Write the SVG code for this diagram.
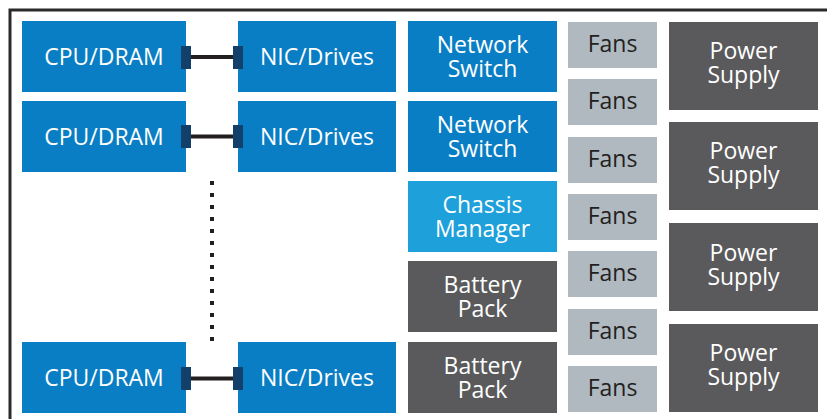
<svg xmlns="http://www.w3.org/2000/svg" width="827" height="419" viewBox="0 0 827 419">
<style>
.blue{fill:#0a7ec4}
.light{fill:#1ea0db}
.dark{fill:#5a5a5c}
.fan{fill:#b0b8c0}
text{font-family:"Open Sans","Noto Sans","Liberation Sans",sans-serif;font-size:23px;text-anchor:middle}
.w{fill:#ffffff}
.k{fill:#231f20}
.tab{fill:#133f6b}
.wire{stroke:#231f20;stroke-width:4}
</style>
<rect x="0" y="0" width="827" height="419" fill="#ffffff"/>
<rect x="10" y="10" width="840" height="430" fill="none" stroke="#2b2b2b" stroke-width="3"/>

<g id="cpu1"><rect class="blue" x="22" y="21" width="164" height="71"/><text class="w" x="104" y="65">CPU/DRAM</text></g>
<g id="nic1"><rect class="blue" x="238" y="21" width="158" height="71"/><text class="w" x="317" y="65">NIC/Drives</text></g>
<g id="cpu2"><rect class="blue" x="22" y="101" width="164" height="71"/><text class="w" x="104" y="145">CPU/DRAM</text></g>
<g id="nic2"><rect class="blue" x="238" y="101" width="158" height="71"/><text class="w" x="317" y="145">NIC/Drives</text></g>
<g id="cpu3"><rect class="blue" x="22" y="342" width="164" height="71"/><text class="w" x="104" y="386">CPU/DRAM</text></g>
<g id="nic3"><rect class="blue" x="238" y="342" width="158" height="71"/><text class="w" x="317" y="386">NIC/Drives</text></g>

<g id="connectors">
<line class="wire" x1="190" y1="57" x2="234" y2="57"/>
<rect class="tab" x="181" y="46" width="10" height="23"/>
<rect class="tab" x="233" y="46" width="10" height="23"/>
<line class="wire" x1="190" y1="136.5" x2="234" y2="136.5"/>
<rect class="tab" x="181" y="125" width="10" height="23"/>
<rect class="tab" x="233" y="125" width="10" height="23"/>
<line class="wire" x1="190" y1="378.5" x2="234" y2="378.5"/>
<rect class="tab" x="181" y="367" width="10" height="23"/>
<rect class="tab" x="233" y="367" width="10" height="23"/>
<line x1="212" y1="181" x2="212" y2="345" stroke="#231f20" stroke-width="4" stroke-dasharray="4 8"/>
</g>

<g id="switch1"><rect class="blue" x="408" y="21" width="149" height="71"/><text class="w" x="482.5" y="52.5">Network<tspan x="482.5" dy="24">Switch</tspan></text></g>
<g id="switch2"><rect class="blue" x="408" y="101" width="149" height="71"/><text class="w" x="482.5" y="132.5">Network<tspan x="482.5" dy="24">Switch</tspan></text></g>
<g id="chassis"><rect class="light" x="408" y="181" width="149" height="71"/><text class="w" x="482.5" y="213">Chassis<tspan x="482.5" dy="24">Manager</tspan></text></g>
<g id="battery1"><rect class="dark" x="408" y="261" width="149" height="71"/><text class="w" x="482.5" y="293">Battery<tspan x="482.5" dy="24">Pack</tspan></text></g>
<g id="battery2"><rect class="dark" x="408" y="342" width="149" height="71"/><text class="w" x="482.5" y="374">Battery<tspan x="482.5" dy="24">Pack</tspan></text></g>

<g id="fans1"><rect class="fan" x="568" y="22" width="89" height="46"/><text class="k" x="612.5" y="52">Fans</text></g>
<g id="fans2"><rect class="fan" x="568" y="79" width="89" height="46"/><text class="k" x="612.5" y="109">Fans</text></g>
<g id="fans3"><rect class="fan" x="568" y="137" width="89" height="46"/><text class="k" x="612.5" y="167">Fans</text></g>
<g id="fans4"><rect class="fan" x="568" y="194" width="89" height="46"/><text class="k" x="612.5" y="224">Fans</text></g>
<g id="fans5"><rect class="fan" x="568" y="251" width="89" height="46"/><text class="k" x="612.5" y="281">Fans</text></g>
<g id="fans6"><rect class="fan" x="568" y="309" width="89" height="46"/><text class="k" x="612.5" y="339">Fans</text></g>
<g id="fans7"><rect class="fan" x="568" y="366" width="89" height="46"/><text class="k" x="612.5" y="396">Fans</text></g>

<g id="psu1"><rect class="dark" x="669" y="22" width="149" height="88"/><text class="w" x="743.5" y="58.5">Power<tspan x="743.5" dy="24">Supply</tspan></text></g>
<g id="psu2"><rect class="dark" x="669" y="122" width="149" height="88"/><text class="w" x="743.5" y="159">Power<tspan x="743.5" dy="24">Supply</tspan></text></g>
<g id="psu3"><rect class="dark" x="669" y="223" width="149" height="88"/><text class="w" x="743.5" y="260.5">Power<tspan x="743.5" dy="24">Supply</tspan></text></g>
<g id="psu4"><rect class="dark" x="669" y="324" width="149" height="88"/><text class="w" x="743.5" y="361">Power<tspan x="743.5" dy="24">Supply</tspan></text></g>
</svg>
